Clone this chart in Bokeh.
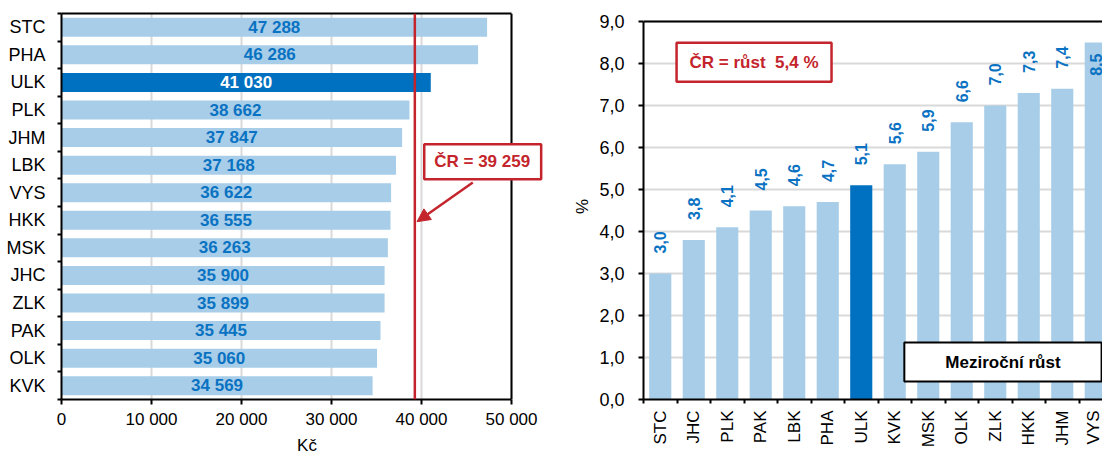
import math
from bokeh.plotting import figure
from bokeh.layouts import row
from bokeh.models import (ColumnDataSource, FixedTicker, Span, Label, Arrow, NormalHead, Range1d,
                          LinearAxis)
from bokeh.core.properties import value
from bokeh.embed import file_html
from bokeh.resources import INLINE

# ---------------- data ----------------
wage_regions = ["STC", "PHA", "ULK", "PLK", "JHM", "LBK", "VYS", "HKK", "MSK", "JHC", "ZLK", "PAK", "OLK", "KVK"]
wage_values = [47288, 46286, 41030, 38662, 37847, 37168, 36622, 36555, 36263, 35900, 35899, 35445, 35060, 34569]
cr_wage = 39259
wage_ticks = [0, 10000, 20000, 30000, 40000, 50000]

growth_regions = ["STC", "JHC", "PLK", "PAK", "LBK", "PHA", "ULK", "KVK", "MSK", "OLK", "ZLK", "HKK", "JHM", "VYS"]
growth_values = [3.0, 3.8, 4.1, 4.5, 4.6, 4.7, 5.1, 5.6, 5.9, 6.6, 7.0, 7.3, 7.4, 8.5]
cr_growth = 5.4
growth_ticks = [0, 1, 2, 3, 4, 5, 6, 7, 8, 9]

highlight = "ULK"

# ---------------- style ----------------
FONT = "Liberation Sans"
LIGHT = "#A7CDE8"
DARK = "#0070C0"
TXT_BLUE = "#0A72C2"
RED = "#C4242C"
GRID = "#D9D9D9"

W_LEFT, W_RIGHT, H = 560, 542, 457
FRAME_H = 386          # both frames share top/bottom
RIGHT_PLOT_H = 378     # pixel height of the 0..9 scale in the right chart


def fmt_int(v):
    return f"{v:,}".replace(",", " ")


def fmt_dec(v):
    return f"{v:.1f}".replace(".", ",")


def style_axis(ax, size="17px"):
    ax.axis_line_color = "black"
    ax.axis_line_width = 2
    ax.major_tick_line_color = "black"
    ax.major_tick_line_width = 2
    ax.minor_tick_line_color = "black"
    ax.minor_tick_line_width = 2
    ax.major_label_text_font = FONT
    ax.major_label_text_font_size = size
    ax.major_label_text_color = "black"
    ax.axis_label_text_font = FONT
    ax.axis_label_text_font_size = "17px"
    ax.axis_label_text_font_style = "normal"
    ax.axis_label_text_color = "black"


def border_axis(bounds):
    ax = LinearAxis(ticker=FixedTicker(ticks=[]), bounds=bounds)
    ax.axis_line_color = "black"
    ax.axis_line_width = 2
    ax.major_tick_out = 0
    ax.major_tick_in = 0
    ax.minor_tick_out = 0
    ax.minor_tick_in = 0
    ax.major_label_standoff = 0
    ax.major_label_text_font_size = "0px"
    return ax


# ---------------- left chart ----------------
n = len(wage_regions)
ypos = [n - 1 - i for i in range(n)]
src1 = ColumnDataSource(dict(
    y=ypos,
    v=wage_values,
    xm=[v / 2 for v in wage_values],
    lab=[fmt_int(v) for v in wage_values],
    col=[DARK if r == highlight else LIGHT for r in wage_regions],
    tcol=["white" if r == highlight else TXT_BLUE for r in wage_regions],
))

x_max = wage_ticks[-1]
p1 = figure(width=W_LEFT, height=H, x_range=Range1d(0, x_max * 491 / 450), y_range=Range1d(-0.5, n - 0.5),
            output_backend="svg", toolbar_location=None,
            min_border_left=61, min_border_right=8, min_border_top=13, min_border_bottom=58)
p1.background_fill_color = "white"
p1.border_fill_color = "white"
p1.outline_line_color = None

p1.hbar(y="y", left=0, right="v", height=0.69, color="col", line_color=None, source=src1)
p1.text(x="xm", y="y", text="lab", text_color="tcol", text_font=value(FONT), text_font_style="bold",
        text_font_size="17px", text_align="center", text_baseline="middle", source=src1)

p1.xaxis.ticker = FixedTicker(ticks=wage_ticks)
p1.xaxis.major_label_overrides = {t: fmt_int(t) for t in wage_ticks}
p1.xaxis.axis_label = "Kč"
p1.xaxis.bounds = (0, x_max)
p1.yaxis.ticker = FixedTicker(ticks=ypos, minor_ticks=[i - 0.5 for i in range(n + 1)])
p1.yaxis.major_label_overrides = {y: r for y, r in zip(ypos, wage_regions)}
for ax in p1.xaxis:
    style_axis(ax)
    ax.major_tick_out = 5
    ax.major_tick_in = 0
    ax.minor_tick_line_color = None
    ax.major_label_standoff = 5
    ax.axis_label_standoff = 4
for ax in p1.yaxis:
    style_axis(ax, "18px")
    ax.major_tick_line_color = None
    ax.major_tick_out = 4
    ax.major_tick_in = 0
    ax.minor_tick_out = 4
    ax.minor_tick_in = 0
    ax.major_label_standoff = 12
p1.ygrid.visible = False
p1.xgrid.grid_line_color = GRID
p1.xgrid.grid_line_width = 2

# frame border: top (bounded) and right edge at the axis maximum
p1.add_layout(border_axis((0, x_max)), "above")
p1.add_layout(Span(location=x_max, dimension="height", line_color="black", line_width=2))

p1.add_layout(Span(location=cr_wage, dimension="height", line_color=RED, line_width=2.5))
p1.add_layout(Arrow(end=NormalHead(size=13, fill_color=RED, line_color=RED, line_width=1),
                    x_start=45700, y_start=7.37, x_end=39500, y_end=5.95,
                    line_color=RED, line_width=2.5))
p1.add_layout(Label(x=46800, y=8.12, text=f"ČR = {fmt_int(cr_wage)}", text_align="center",
                    text_baseline="middle", text_color=RED, text_font=FONT, text_font_style="bold",
                    text_font_size="17px", background_fill_color="white", border_line_color=RED,
                    border_line_width=2.5, padding=dict(left=10, right=11, top=8, bottom=8)))

# ---------------- right chart ----------------
m = len(growth_regions)
xpos = list(range(m))
y_top = growth_ticks[-1]
room = 1.0  # label space above bar (in %-units)
out_idx = [i for i, v in enumerate(growth_values) if v + room <= y_top]
in_idx = [i for i, v in enumerate(growth_values) if v + room > y_top]

src2 = ColumnDataSource(dict(
    x=xpos,
    v=growth_values,
    col=[DARK if r == highlight else LIGHT for r in growth_regions],
))
src2o = ColumnDataSource(dict(
    x=[xpos[i] for i in out_idx],
    v=[growth_values[i] for i in out_idx],
    lab=[fmt_dec(growth_values[i]) for i in out_idx],
))
src2i = ColumnDataSource(dict(
    x=[xpos[i] for i in in_idx],
    v=[growth_values[i] for i in in_idx],
    lab=[fmt_dec(growth_values[i]) for i in in_idx],
))

p2 = figure(width=W_RIGHT, height=H, x_range=Range1d(-0.5, -0.5 + 459 / 33.5),
            y_range=Range1d(0, y_top * FRAME_H / RIGHT_PLOT_H),
            output_backend="svg", toolbar_location=None,
            min_border_left=83, min_border_right=0, min_border_top=13, min_border_bottom=58)
p2.background_fill_color = "white"
p2.border_fill_color = "white"
p2.outline_line_color = None

p2.vbar(x="x", bottom=0, top="v", width=0.66, color="col", line_color=None, source=src2)
p2.text(x="x", y="v", text="lab", angle=math.pi / 2, y_offset=-20, text_color=TXT_BLUE,
        text_font=value(FONT), text_font_style="bold", text_font_size="16px",
        text_align="left", text_baseline="middle", source=src2o)
p2.text(x="x", y="v", text="lab", angle=math.pi / 2, y_offset=11, text_color=TXT_BLUE,
        text_font=value(FONT), text_font_style="bold", text_font_size="16px",
        text_align="right", text_baseline="middle", source=src2i)

p2.yaxis.ticker = FixedTicker(ticks=growth_ticks)
p2.yaxis.major_label_overrides = {t: fmt_dec(t) for t in growth_ticks}
p2.yaxis.axis_label = "%"
p2.yaxis.bounds = (0, y_top)
p2.xaxis.ticker = FixedTicker(ticks=xpos, minor_ticks=[i - 0.5 for i in range(m + 1)])
p2.xaxis.major_label_overrides = {x: r for x, r in zip(xpos, growth_regions)}
p2.xaxis.major_label_orientation = math.pi / 2
for ax in p2.yaxis:
    style_axis(ax, "18px")
    ax.major_tick_out = 5
    ax.major_tick_in = 0
    ax.minor_tick_line_color = None
    ax.major_label_standoff = 14
    ax.axis_label_standoff = 4
for ax in p2.xaxis:
    style_axis(ax, "17px")
    ax.major_tick_line_color = None
    ax.major_tick_out = 4
    ax.major_tick_in = 0
    ax.minor_tick_out = 4
    ax.minor_tick_in = 0
    ax.major_label_standoff = 7
p2.xgrid.visible = False
p2.ygrid.grid_line_color = GRID
p2.ygrid.grid_line_width = 2

p2.add_layout(Span(location=y_top, dimension="width", line_color="black", line_width=2))
p2.add_layout(Label(x=2.8, y=8.03, text=f"ČR = růst\u00a0 {fmt_dec(cr_growth)} %", text_align="center",
                    text_baseline="middle", text_color=RED, text_font=FONT, text_font_style="bold",
                    text_font_size="17px", background_fill_color="white", border_line_color=RED,
                    border_line_width=2.5, padding=dict(left=13, right=13, top=10, bottom=10)))
p2.add_layout(Label(x=10.23, y=0.89, text="Meziroční růst", text_align="center",
                    text_baseline="middle", text_color="black", text_font=FONT, text_font_style="bold",
                    text_font_size="17px", background_fill_color="white", border_line_color="black",
                    border_line_width=2, padding=dict(left=41, right=41, top=10, bottom=10)))

layout = row(p1, p2, width=W_LEFT + W_RIGHT, height=H)
open("out.html", "w").write(file_html(layout, INLINE))
